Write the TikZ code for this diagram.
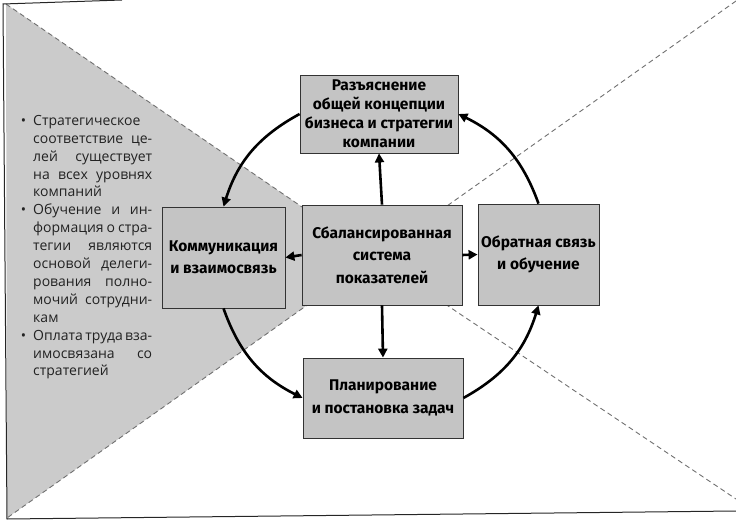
\documentclass[tikz,border=0pt]{standalone}
\usepackage{fontspec}
\setmainfont{Fira Sans}
\newfontfamily\listfont{Open Sans}
\usetikzlibrary{arrows.meta}
\definecolor{boxgray}{HTML}{C4C4C4}
\definecolor{trigray}{HTML}{CBCBCB}
\definecolor{dashgray}{HTML}{707070}
\definecolor{txtgray}{HTML}{222222}
\newcommand\jl[1]{\hbox to 119pt{#1}}
\newcommand\wg{\hspace{2pt plus 1fill}}
\newcommand\bl{\llap{\textbullet\hspace{7pt}}}
\begin{document}
\begin{tikzpicture}[x=1pt,y=-1pt,
  box/.style={draw=black!80,line width=0.8pt,fill=boxgray,align=center,
    font=\bfseries\fontsize{15.5}{22.5}\selectfont,inner sep=1pt},
  dline/.style={draw=dashgray,line width=0.9pt,dash pattern=on 5pt off 3.5pt},
  arr/.style={line width=2.6pt,-{Triangle[length=9pt,width=9pt]}},
  frame/.style={line width=1pt,draw=black!85}]
\useasboundingbox (0,0) rectangle (736,521);
% gray triangle
\fill[trigray] (6,4) -- (375,257) -- (7,518) -- cycle;
\coordinate (X) at (375,257);
\coordinate (TL) at (6,4);
\coordinate (BL) at (7,518);
\coordinate (TR) at (736,1);
\coordinate (BR) at (736,499);
\draw[dline] (TL) -- (X) -- (BL);
\draw[dline] (TR) -- (X) -- (BR);
% frame
\coordinate (F1) at (3,4);
\coordinate (F2) at (122,0);
\coordinate (F3) at (7,519);
\coordinate (F4) at (736,511);
\draw[frame] (F2) -- (F1) -- (F3) -- (F4);
% boxes
\node[box,minimum width=158pt,minimum height=78pt,font=\bfseries\fontsize{15.5}{19}\selectfont] (top) at (379,114)
  {Разъяснение\\общей концепции\\бизнеса и стратегии\\компании};
\node[box,minimum width=123pt,minimum height=101pt] (left) at (223.5,257.5)
  {Коммуникация\\и взаимосвязь};
\node[box,minimum width=160pt,minimum height=100pt] (mid) at (382,255)
  {Сбалансированная\\система\\показателей};
\node[box,minimum width=121pt,minimum height=101pt] (right) at (538.5,254.5)
  {Обратная связь\\и обучение};
\node[box,minimum width=160pt,minimum height=80pt] (bot) at (383,398)
  {Планирование\\и постановка задач};
% straight arrows
\draw[arr] (mid.north) -- (top.south);
\draw[arr] (mid.south) -- (bot.north);
\draw[arr] (mid.west) -- (left.east);
\draw[arr] (mid.east) -- (right.west);
% circular arrows
\draw[arr] (top.west) to[bend right=22] (left.north);
\draw[arr] (left.south) to[bend right=22] (bot.west);
\draw[arr] (bot.east) to[bend right=22] (right.south);
\draw[arr] (right.north) to[bend right=22] (top.east);
% bullet text
\node[anchor=north west,inner sep=0pt,align=left,text=txtgray,
  font=\listfont\fontsize{14}{17.9}\selectfont] (list) at (33,115) {%
\bl\jl{Стратегическое}\\
\jl{соответствие\wg це-}\\
\jl{лей\wg существует}\\
\jl{на\wg всех\wg уровнях}\\
компаний\\
\bl\jl{Обучение\wg и\wg ин-}\\
\jl{формация\wg о\wg стра-}\\
\jl{тегии\wg являются}\\
\jl{основой\wg делеги-}\\
\jl{рования\wg полно-}\\
\jl{мочий\wg сотрудни-}\\
кам\\
\bl\jl{Оплата\wg труда\wg вза-}\\
\jl{имосвязана\wg со}\\
стратегией};
\end{tikzpicture}
\end{document}
